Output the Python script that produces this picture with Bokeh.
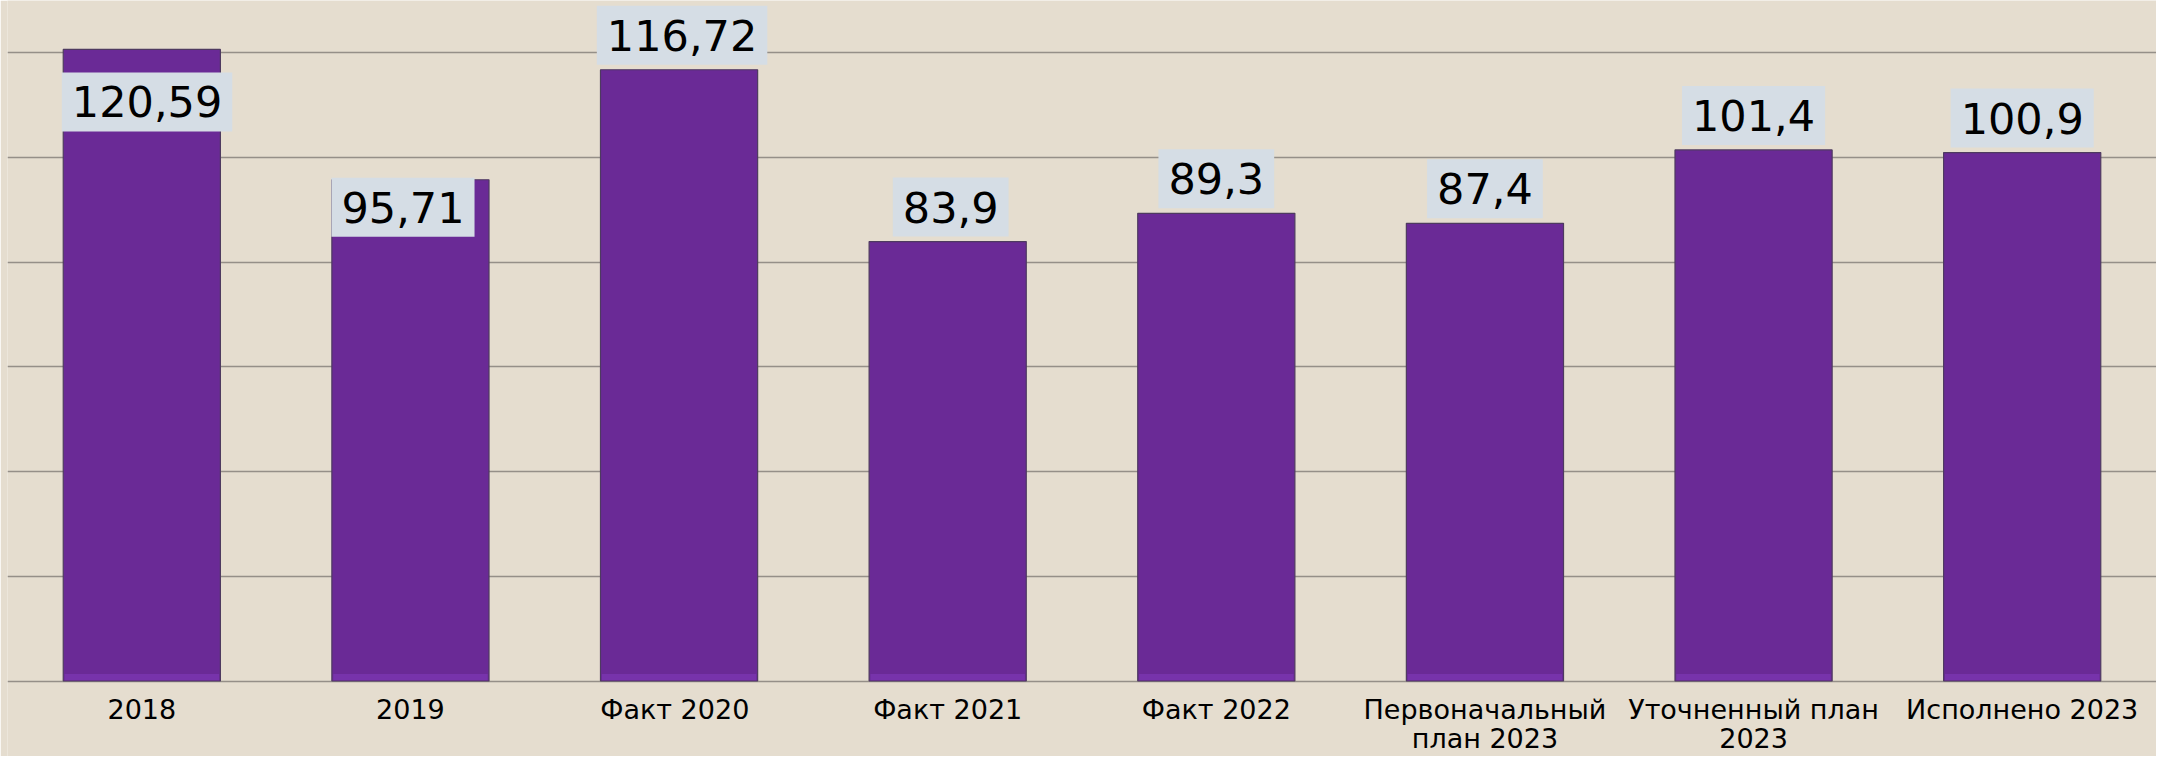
from bokeh.plotting import figure
from bokeh.models import ColumnDataSource, FactorRange, Range1d, FixedTicker
from bokeh.embed import file_html
from bokeh.resources import INLINE
from bokeh.core.properties import value

# ---- data ----
categories = ["2018", "2019", "Факт  2020", "Факт 2021", "Факт 2022",
              "Первоначальный\nплан 2023", "Уточненный план\n2023", "Исполнено 2023"]
values = [120.59, 95.71, 116.72, 83.9, 89.3, 87.4, 101.4, 100.9]
value_labels = ["120,59", "95,71", "116,72", "83,9", "89,3", "87,4", "101,4", "100,9"]
y_ticks = [0, 20, 40, 60, 80, 100, 120]

# ---- label placement styles (screen px offsets) ----
label_anchor = ["top_left", "top_left", "bottom_center", "bottom_center",
                "bottom_center", "bottom_center", "bottom_center", "bottom_center"]
label_dx = [-80, -79, 3, 3, 0, 0, 0, 0]
label_dy = [23, -2, -5, -5, -5, -5, -5, -5]

BG = "#e5ddcf"
BAR = "#6a2a96"
BEVEL = "#7733ab"
GRID = "#958f88"

# layout (pixels)
W, H = 2156, 756
LEFT = 7
BASE_Y = 680.5          # pixel row of the zero line
PX_PER_UNIT = 5.237
BAR_W = 0.585

line1 = [c.split("\n")[0] for c in categories]
line2 = [c.split("\n")[1] if "\n" in c else "" for c in categories]

src = ColumnDataSource(dict(cat=categories, val=values, lab=value_labels,
                            anc=label_anchor, dx=label_dx, dy=label_dy,
                            l1=line1, l2=line2))

y_top = BASE_Y / PX_PER_UNIT
y_bot = -(H - BASE_Y) / PX_PER_UNIT

p = figure(x_range=FactorRange(*categories), y_range=Range1d(y_bot, y_top),
           frame_width=W - LEFT, frame_height=H,
           output_backend="svg", toolbar_location=None,
           min_border_left=LEFT, min_border_right=0, min_border_top=0, min_border_bottom=0)

p.background_fill_color = BG
p.border_fill_color = BG
p.outline_line_color = None

p.vbar(x="cat", top="val", width=BAR_W, source=src, fill_color=BAR,
       line_color="#4e3a60", line_width=1.2)
# lighter bevel strip along the foot of each bar
p.vbar(x="cat", top=7 / PX_PER_UNIT, bottom=0.15, width=BAR_W - 0.01, source=src,
       fill_color=BEVEL, line_color=None)

# value labels
p.text(x="cat", y="val", text="lab", source=src, anchor="anc",
       x_offset="dx", y_offset="dy",
       text_font=value("DejaVu Sans"), text_font_size="43px", text_color="black",
       background_fill_color="#d5dde5",
       padding=dict(left=10, right=10, top=14, bottom=14))

# category labels (two text rows)
cat_style = dict(text_align="center", text_baseline="alphabetic",
                 text_font=value("DejaVu Sans"), text_font_size="27px",
                 text_color="black")
p.text(x="cat", y=0, text="l1", source=src, y_offset=28, **cat_style)
p.text(x="cat", y=0, text="l2", source=src, y_offset=57, **cat_style)

p.xaxis.visible = False
p.yaxis.visible = False
p.ygrid.ticker = FixedTicker(ticks=y_ticks)
p.ygrid.grid_line_color = GRID
p.ygrid.grid_line_width = 1.5
p.xgrid.grid_line_color = None

open("out.html", "w").write(file_html(p, INLINE))
